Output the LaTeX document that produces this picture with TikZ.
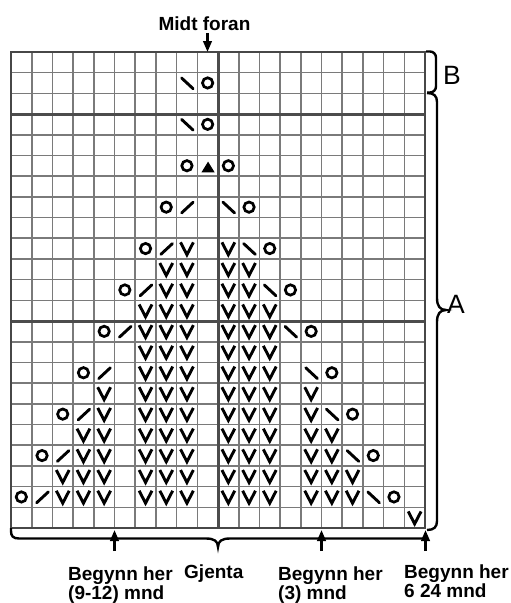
\documentclass[tikz,border=0pt]{standalone}
\usepackage{fontspec}
\setmainfont{Liberation Sans}
\usetikzlibrary{arrows.meta}
\tikzset{
  thin_grid/.style={draw=black!52, line width=1.6pt},
  thick_grid/.style={draw=black!70, line width=3pt},
  outer_frame/.style={draw=black!72, line width=1.8pt},
  knit_v/.style={draw=black, line width=2.9pt},
  dec_line/.style={draw=black, line width=2.9pt, line cap=round},
  yarn_over/.style={draw=black, line width=2.7pt},
  brace_line/.style={draw=black, line width=2.4pt},
  pointer/.style={-{Triangle[length=11pt, width=8.5pt]}, line width=2.5pt, black},
  label_text/.style={font=\fontsize{19}{19}\selectfont\bfseries, inner sep=0pt},
  section_text/.style={font=\fontsize{26.5}{28}\selectfont, inner sep=0pt}
}

\begin{document}
\begin{tikzpicture}[x=1pt, y=-1pt]

      \path[use as bounding box, fill=white] (0,0) rectangle (511,603);

      \begin{scope}[shift={(11pt,-528pt)}, x=20.7pt, y=20.7pt]
        % Grid
        \draw[thin_grid, step=1] (0,0) grid (20,23);
        \draw[thick_grid] (0,10) -- (20,10) (0,20) -- (20,20) (10,0) -- (10,23);
        \draw[outer_frame] (0,0) rectangle (20,23);

        % Knit stitches
        \foreach \r in {2,...,11} {
          \foreach \c in {7,8,9,11,12,13} {
            \draw[knit_v] (\c-0.81,\r-0.2) -- (\c-0.5,\r-0.8) -- (\c-0.19,\r-0.2);
          }
        }
        \foreach \c/\r in {9/14, 8/13, 9/13, 8/12, 9/12, 11/14, 11/13, 12/13, 11/12, 12/12,
                           5/7, 5/6, 4/5, 5/5, 4/4, 5/4, 3/3, 4/3, 5/3, 3/2, 4/2, 5/2,
                           15/7, 15/6, 15/5, 16/5, 15/4, 16/4, 15/3, 16/3, 17/3, 15/2, 16/2, 17/2, 20/1} {
          \draw[knit_v] (\c-0.81,\r-0.2) -- (\c-0.5,\r-0.8) -- (\c-0.19,\r-0.2);
        }

        % Decreases
        \foreach \c/\r in {9/16, 8/14, 7/12, 6/10, 5/8, 4/6, 3/4, 2/2} {
          \draw[dec_line] (\c-0.76,\r-0.78) -- (\c-0.2,\r-0.26);
        }
        \foreach \c/\r in {11/16, 12/14, 13/12, 14/10, 15/8, 16/6, 17/4, 18/2, 9/22, 9/20} {
          \draw[dec_line] (\c-0.76,\r-0.26) -- (\c-0.2,\r-0.78);
        }

        % Yarn overs
        \foreach \c/\r in {8/16, 7/14, 6/12, 5/10, 4/8, 3/6, 2/4, 1/2,
                           12/16, 13/14, 14/12, 15/10, 16/8, 17/6, 18/4, 19/2,
                           10/22, 10/20, 9/18, 11/18} {
          \draw[yarn_over] (\c-0.5,\r-0.5) circle (0.25);
        }

        \fill[black] (9.2,17.18) -- (9.84,17.18) -- (9.52,17.7) -- cycle;
      \end{scope}

      % Top label
      \node[label_text, anchor=base] (midt_label) at (204.5,30.5) {Midt foran};
      \coordinate (midt_tip) at (207.5,52);
      \draw[pointer, shorten <=2pt] (midt_label.south -| midt_tip) -- (midt_tip);

      % Braces
      \draw[brace_line, rounded corners=6pt] (426,51.5) -- (436,51.5) -- (436,92.5) -- (427,92.5);
      \draw[brace_line] (427,93) .. controls (434,93) and (437,96) .. (437,102) -- (437,298)
        .. controls (437,306) and (440,310) .. (446,310) .. controls (440,310) and (437,314) .. (437,322)
        -- (437,521) .. controls (437,527) and (434,530) .. (427,530);
      \draw[brace_line] (11,528) -- (11,531) .. controls (11,536) and (13,538.5) .. (19,538.5) -- (206,538.5)
        .. controls (214,538.5) and (218,541) .. (218,547) .. controls (218,541) and (222,538.5) .. (230,538.5)
        -- (425.5,538.5);

      \node[section_text, anchor=base west] (b_label) at (443,84) {B};
      \node[section_text, anchor=base west] (a_label) at (447,313) {A};

      % Start arrows
      \foreach \x/\name in {114.5/912, 321.5/3, 425.5/624} {
        \coordinate (tail_\name) at (\x,551);
        \coordinate (tip_\name) at (\x,530);
        \draw[pointer] (tail_\name) -- (tip_\name);
      }

      \node[label_text, anchor=north west, align=left] (start_912) at (68,566.5) {Begynn her\\(9-12) mnd};
      \node[label_text, anchor=base west] (gjenta_label) at (184,578) {Gjenta};
      \node[label_text, anchor=north west, align=left] (start_3) at (278,566.5) {Begynn her\\(3) mnd};
      \node[label_text, anchor=north west, align=left] (start_624) at (404,564.5) {Begynn her\\6 24 mnd};

\end{tikzpicture}
\end{document}
